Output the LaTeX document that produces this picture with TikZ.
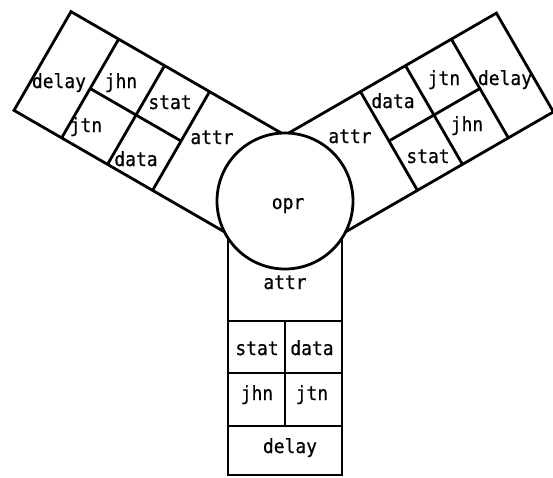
\documentclass[tikz,border=0pt]{standalone}
\usepackage{fontspec}
\newfontfamily\monofont[FakeStretch=0.92,FakeBold=0.6]{DejaVu Sans Mono}
\begin{document}
\begin{tikzpicture}[x=1pt,y=-1pt,line width=2.8pt,
  lbl/.style={font=\monofont\fontsize{19.5}{22}\selectfont,inner sep=0pt,text height=0.7em,text depth=0.1em}]
\useasboundingbox (0,0) rectangle (553,477);
% central circle
\node[circle,draw,minimum size=136pt,inner sep=0pt] (opr) at (285,201) {};
\node[lbl] (oprtxt) at (288,206) {opr};
% three arms (same layout, rotated)
\foreach \a/\r/\len in {b/0/274, r/120/277, l/-120/280}{
  \begin{scope}[shift={(285,201)},rotate=\r]
    \draw (-57,37) -- (-57,\len) -- (57,\len) -- (57,37);
    \draw (-57,120) -- (57,120) (-57,172) -- (57,172) (-57,225) -- (57,225) (0,120) -- (0,225);
  \end{scope}
}
% bottom arm labels
\node[lbl] (b-attr)  at (285,286) {attr};
\node[lbl] (b-stat)  at (257,352) {stat};
\node[lbl] (b-data)  at (312,352) {data};
\node[lbl] (b-jhn)   at (257,397) {jhn};
\node[lbl] (b-jtn)   at (312,397) {jtn};
\node[lbl] (b-delay) at (290,450) {delay};
% upper-left arm labels
\node[lbl] (l-attr)  at (212,141) {attr};
\node[lbl] (l-stat)  at (170,106) {stat};
\node[lbl] (l-data)  at (136,163) {data};
\node[lbl] (l-jhn)   at (121,85)  {jhn};
\node[lbl] (l-jtn)   at (86,129)  {jtn};
\node[lbl] (l-delay) at (59,85)   {delay};
% upper-right arm labels
\node[lbl] (r-attr)  at (350,140) {attr};
\node[lbl] (r-stat)  at (428,160) {stat};
\node[lbl] (r-data)  at (393,105) {data};
\node[lbl] (r-jhn)   at (467,128) {jhn};
\node[lbl] (r-jtn)   at (444,82)  {jtn};
\node[lbl] (r-delay) at (505,82)  {delay};
\end{tikzpicture}
\end{document}
